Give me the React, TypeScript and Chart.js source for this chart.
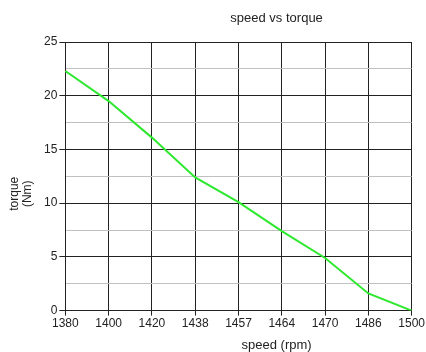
import React, { useEffect, useRef } from "react";
import { Chart, registerables } from "chart.js";

Chart.register(...registerables);

const speeds = ["1380", "1400", "1420", "1438", "1457", "1464", "1470", "1486", "1500"];
const torque = [22.3, 19.5, 16.1, 12.4, 10.1, 7.4, 4.9, 1.6, 0];

const chartTitle = "speed vs torque";
const xTitle = "speed (rpm)";
const yTitle = ["torque", "(Nm)"];

const FAMILY = "'Liberation Sans', Arial, sans-serif";

const titlesPlugin = {
  id: "offsetTitles",
  afterDraw(chart: any) {
    const ctx = chart.ctx;
    const area = chart.chartArea;
    const cx = area.left + (area.right - area.left) * 0.61;
    ctx.save();
    ctx.fillStyle = "#222";
    ctx.textAlign = "center";
    ctx.textBaseline = "middle";
    ctx.font = `13px ${FAMILY}`;
    ctx.fillText(chartTitle, cx, 18);
    ctx.fillText(xTitle, cx, 345);
    ctx.font = `12px ${FAMILY}`;
    const cy = area.top + (area.bottom - area.top) * 0.565;
    ctx.translate(0, cy);
    ctx.rotate(-Math.PI / 2);
    ctx.fillText(yTitle[0], 0, 15);
    ctx.fillText(yTitle[1], 0, 28);
    ctx.restore();
  },
};

export default function App() {
  const ref = useRef<HTMLCanvasElement>(null);
  useEffect(() => {
    if (!ref.current) return;
    const font = { family: FAMILY, size: 12 };
    const chart = new Chart(ref.current, {
      type: "line",
      data: {
        labels: speeds,
        datasets: [
          {
            data: torque,
            borderColor: "#2ee82e",
            borderWidth: 2,
            pointRadius: 0,
            tension: 0,
            fill: false,
          },
        ],
      },
      options: {
        animation: false,
        responsive: false,
        layout: { padding: { left: 42, right: 13, top: 42, bottom: 20 } },
        plugins: {
          legend: { display: false },
          tooltip: { enabled: false },
          title: { display: false },
        },
        scales: {
          x: {
            type: "category",
            offset: false,
            grid: {
              color: "#222",
              lineWidth: 1,
              tickLength: 5,
              tickColor: "#222",
            },
            border: { color: "#222", width: 1 },
            ticks: { color: "#222", font, padding: 1, maxRotation: 0, autoSkip: false },
          },
          y: {
            min: 0,
            max: 25,
            grid: {
              color: (ctx: any) => (ctx.tick && ctx.tick.value % 5 === 0 ? "#222" : "#c0c0c0"),
              lineWidth: 1,
              tickLength: 6,
              tickColor: (ctx: any) => (ctx.tick && ctx.tick.value % 5 === 0 ? "#222" : "rgba(0,0,0,0)"),
            },
            border: { color: "#222", width: 1 },
            ticks: {
              stepSize: 2.5,
              color: "#222",
              font,
              padding: 2,
              autoSkip: false,
              callback: (v: any) => (Number(v) % 5 === 0 ? String(v) : ""),
            },
          },
        },
      },
      plugins: [titlesPlugin],
    });
    return () => chart.destroy();
  }, []);
  return (
    <div style={{ position: "fixed", left: 0, top: 0, width: 426, height: 352, background: "#fff" }}>
      <canvas ref={ref} width={426} height={352} style={{ width: 426, height: 352 }} />
    </div>
  );
}
